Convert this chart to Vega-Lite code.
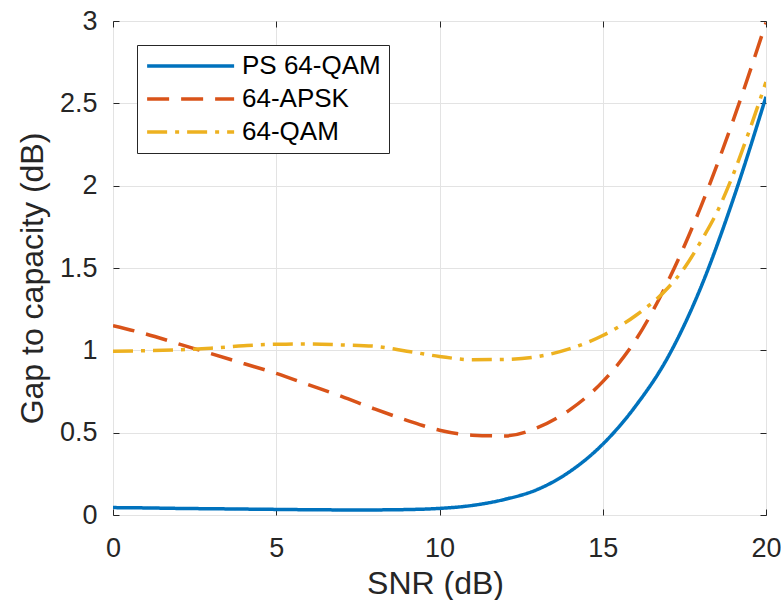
{
  "$schema": "https://vega.github.io/schema/vega-lite/v6.json",
  "width": 653,
  "height": 494,
  "autosize": {"type": "none"},
  "padding": {"left": 113, "top": 21, "right": 15, "bottom": 85},
  "background": "white",
  "config": {
    "font": "Liberation Sans",
    "view": {"stroke": "#262626", "strokeWidth": 1},
    "axis": {
      "domain": false,
      "grid": true,
      "gridColor": "#e3e3e3",
      "gridWidth": 1,
      "tickColor": "#262626",
      "tickSize": -6,
      "tickWidth": 1,
      "labelColor": "#262626",
      "titleColor": "#262626",
      "labelOverlap": false,
      "labelFlush": false
    }
  },
  "data": {
    "values": [
      {"snr": 0, "gap": 0.045, "scheme": "PS 64-QAM"},
      {"snr": 1, "gap": 0.043, "scheme": "PS 64-QAM"},
      {"snr": 2, "gap": 0.040, "scheme": "PS 64-QAM"},
      {"snr": 3, "gap": 0.038, "scheme": "PS 64-QAM"},
      {"snr": 4, "gap": 0.036, "scheme": "PS 64-QAM"},
      {"snr": 5, "gap": 0.034, "scheme": "PS 64-QAM"},
      {"snr": 6, "gap": 0.032, "scheme": "PS 64-QAM"},
      {"snr": 7, "gap": 0.031, "scheme": "PS 64-QAM"},
      {"snr": 8, "gap": 0.031, "scheme": "PS 64-QAM"},
      {"snr": 9, "gap": 0.033, "scheme": "PS 64-QAM"},
      {"snr": 10, "gap": 0.040, "scheme": "PS 64-QAM"},
      {"snr": 11, "gap": 0.058, "scheme": "PS 64-QAM"},
      {"snr": 12, "gap": 0.095, "scheme": "PS 64-QAM"},
      {"snr": 13, "gap": 0.155, "scheme": "PS 64-QAM"},
      {"snr": 14, "gap": 0.265, "scheme": "PS 64-QAM"},
      {"snr": 15, "gap": 0.43, "scheme": "PS 64-QAM"},
      {"snr": 16, "gap": 0.66, "scheme": "PS 64-QAM"},
      {"snr": 17, "gap": 0.96, "scheme": "PS 64-QAM"},
      {"snr": 18, "gap": 1.38, "scheme": "PS 64-QAM"},
      {"snr": 19, "gap": 1.92, "scheme": "PS 64-QAM"},
      {"snr": 20, "gap": 2.54, "scheme": "PS 64-QAM"},
      {"snr": 0, "gap": 1.15, "scheme": "64-APSK"},
      {"snr": 1, "gap": 1.10, "scheme": "64-APSK"},
      {"snr": 2, "gap": 1.04, "scheme": "64-APSK"},
      {"snr": 3, "gap": 0.98, "scheme": "64-APSK"},
      {"snr": 4, "gap": 0.92, "scheme": "64-APSK"},
      {"snr": 5, "gap": 0.86, "scheme": "64-APSK"},
      {"snr": 6, "gap": 0.79, "scheme": "64-APSK"},
      {"snr": 7, "gap": 0.72, "scheme": "64-APSK"},
      {"snr": 8, "gap": 0.645, "scheme": "64-APSK"},
      {"snr": 9, "gap": 0.575, "scheme": "64-APSK"},
      {"snr": 10, "gap": 0.515, "scheme": "64-APSK"},
      {"snr": 11, "gap": 0.485, "scheme": "64-APSK"},
      {"snr": 12, "gap": 0.48, "scheme": "64-APSK"},
      {"snr": 13, "gap": 0.53, "scheme": "64-APSK"},
      {"snr": 14, "gap": 0.64, "scheme": "64-APSK"},
      {"snr": 15, "gap": 0.81, "scheme": "64-APSK"},
      {"snr": 16, "gap": 1.06, "scheme": "64-APSK"},
      {"snr": 17, "gap": 1.42, "scheme": "64-APSK"},
      {"snr": 18, "gap": 1.87, "scheme": "64-APSK"},
      {"snr": 19, "gap": 2.40, "scheme": "64-APSK"},
      {"snr": 20, "gap": 2.99, "scheme": "64-APSK"},
      {"snr": 0, "gap": 0.995, "scheme": "64-QAM"},
      {"snr": 1, "gap": 0.998, "scheme": "64-QAM"},
      {"snr": 2, "gap": 1.003, "scheme": "64-QAM"},
      {"snr": 3, "gap": 1.013, "scheme": "64-QAM"},
      {"snr": 4, "gap": 1.028, "scheme": "64-QAM"},
      {"snr": 5, "gap": 1.037, "scheme": "64-QAM"},
      {"snr": 6, "gap": 1.038, "scheme": "64-QAM"},
      {"snr": 7, "gap": 1.033, "scheme": "64-QAM"},
      {"snr": 8, "gap": 1.025, "scheme": "64-QAM"},
      {"snr": 9, "gap": 0.995, "scheme": "64-QAM"},
      {"snr": 10, "gap": 0.963, "scheme": "64-QAM"},
      {"snr": 11, "gap": 0.943, "scheme": "64-QAM"},
      {"snr": 12, "gap": 0.945, "scheme": "64-QAM"},
      {"snr": 13, "gap": 0.962, "scheme": "64-QAM"},
      {"snr": 14, "gap": 1.01, "scheme": "64-QAM"},
      {"snr": 15, "gap": 1.09, "scheme": "64-QAM"},
      {"snr": 16, "gap": 1.21, "scheme": "64-QAM"},
      {"snr": 17, "gap": 1.38, "scheme": "64-QAM"},
      {"snr": 17.5, "gap": 1.50, "scheme": "64-QAM"},
      {"snr": 18, "gap": 1.66, "scheme": "64-QAM"},
      {"snr": 18.5, "gap": 1.84, "scheme": "64-QAM"},
      {"snr": 19, "gap": 2.07, "scheme": "64-QAM"},
      {"snr": 19.5, "gap": 2.34, "scheme": "64-QAM"},
      {"snr": 20, "gap": 2.63, "scheme": "64-QAM"}
    ]
  },
  "layer": [
    {
      "mark": {"type": "line", "strokeWidth": 3.5, "interpolate": "monotone", "clip": true},
      "encoding": {
        "x": {
          "field": "snr", "type": "quantitative",
          "scale": {"domain": [0, 20], "nice": false, "zero": false},
          "axis": {
            "orient": "bottom", "title": "SNR (dB)", "values": [0, 5, 10, 15, 20],
            "labelFont": "Liberation Sans", "labelFontSize": 27,
            "titleFont": "Liberation Sans", "titleFontSize": 32, "titleFontWeight": "normal",
            "labelBaseline": "alphabetic", "labelPadding": 47,
            "titleBaseline": "alphabetic", "titleY": 78, "titleX": 322, "titleAnchor": "middle"
          }
        },
        "y": {
          "field": "gap", "type": "quantitative",
          "scale": {"domain": [0, 3], "nice": false},
          "axis": {
            "orient": "left", "title": "Gap to capacity (dB)",
            "values": [0, 0.5, 1, 1.5, 2, 2.5, 3],
            "format": "~g",
            "labelFont": "Liberation Sans", "labelFontSize": 27,
            "titleFont": "Liberation Sans", "titleFontSize": 32, "titleFontWeight": "normal",
            "labelPadding": 22,
            "titleBaseline": "alphabetic", "titleX": -71, "titleY": 257, "titleAngle": -90, "titleAnchor": "middle"
          }
        },
        "color": {
          "field": "scheme", "type": "nominal",
          "scale": {"domain": ["PS 64-QAM", "64-APSK", "64-QAM"], "range": ["#0072BD", "#D95319", "#EDB120"]},
          "legend": {
            "title": null,
            "orient": "none",
            "legendX": 24,
            "legendY": 24,
            "symbolType": "M-1,0H7",
            "symbolSize": 473,
            "symbolStrokeWidth": 3.5,
            "symbolFillColor": "transparent",
            "labelFontSize": 26,
            "labelFont": "Liberation Sans",
            "labelColor": "#000000",
            "labelOffset": 71,
            "strokeColor": "#262626",
            "fillColor": "white",
            "padding": 8,
            "rowPadding": 7,
            "labelLimit": 300
          }
        },
        "strokeDash": {
          "field": "scheme", "type": "nominal",
          "scale": {"domain": ["PS 64-QAM", "64-APSK", "64-QAM"], "range": [[1, 0], [22, 12], [20, 8, 4, 8]]},
          "legend": null
        }
      }
    },
    {
      "mark": {"type": "line", "opacity": 0},
      "encoding": {
        "x": {
          "field": "snr", "type": "quantitative",
          "axis": {"orient": "top", "labels": false, "title": null, "grid": false, "values": [0, 5, 10, 15, 20]}
        },
        "y": {
          "field": "gap", "type": "quantitative",
          "axis": {"orient": "right", "labels": false, "title": null, "grid": false, "values": [0, 0.5, 1, 1.5, 2, 2.5, 3]}
        },
        "detail": {"field": "scheme"}
      }
    }
  ],
  "resolve": {"axis": {"x": "independent", "y": "independent"}}
}
